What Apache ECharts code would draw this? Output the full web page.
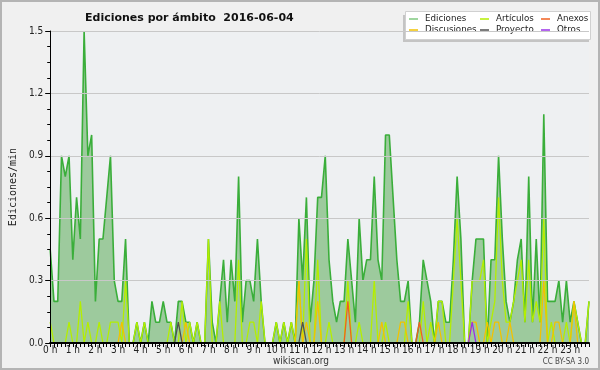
<!DOCTYPE html>
<html><head><meta charset="utf-8">
<script src="https://cdn.jsdelivr.net/npm/echarts@6/dist/echarts.min.js"></script>
<style>html,body{margin:0;padding:0;background:#f0f0f0}#c{width:600px;height:370px}</style>
</head><body><div id="c"></div>
<script>
// Tick labels (one per hour, every 6 ten-minute slots)
const hourLabels = ['0 h','1 h','2 h','3 h','4 h','5 h','6 h','7 h','8 h','9 h','10 h','11 h','12 h','13 h','14 h','15 h','16 h','17 h','18 h','19 h','20 h','21 h','22 h','23 h'];
const yTicks = [0, 0.3, 0.6, 0.9, 1.2, 1.5];

// Edits per minute, one value per 10-minute slot (144 slots)
const ediciones = [
  0.45,0.2,0.2,0.9,0.8,0.9,0.4,0.7,0.5,1.5,0.9,1.0,
  0.2,0.5,0.5,0.7,0.9,0.3,0.2,0.2,0.5,0,0,0.1,
  0,0.1,0,0.2,0.1,0.1,0.2,0.1,0.1,0,0.2,0.2,
  0.1,0.1,0,0.1,0,0,0.5,0.1,0,0.2,0.4,0.1,
  0.4,0.2,0.8,0.1,0.3,0.3,0.2,0.5,0.2,0,0,0,
  0.1,0,0.1,0,0.1,0,0.6,0.3,0.7,0.1,0.3,0.7,
  0.7,0.9,0.4,0.2,0.1,0.2,0.2,0.5,0.3,0.1,0.6,0.3,
  0.4,0.4,0.8,0.4,0.3,1.0,1.0,0.7,0.4,0.2,0.2,0.3,
  0,0,0.1,0.4,0.3,0.2,0,0.2,0.2,0.1,0.1,0.4,
  0.8,0.5,0,0,0.3,0.5,0.5,0.5,0,0.4,0.4,0.9,
  0.5,0.2,0.1,0.2,0.4,0.5,0.1,0.8,0.1,0.5,0.1,1.1,
  0.2,0.2,0.2,0.3,0.1,0.3,0.1,0.2,0.1,0,0,0.2
];
const articulos = [
  0.1,0,0,0,0,0.1,0,0,0.2,0,0.1,0,
  0,0.1,0,0,0.1,0.1,0.1,0,0.3,0,0,0.1,
  0,0.1,0,0,0,0,0,0,0.1,0,0,0.2,
  0,0.1,0,0.1,0,0,0.5,0,0,0.2,0,0,
  0,0,0.4,0,0,0.1,0.1,0,0.2,0,0,0,
  0.1,0,0.1,0,0.1,0,0.3,0,0.5,0,0,0.4,
  0,0,0.1,0,0,0,0,0.3,0,0,0.1,0,
  0,0,0.3,0,0,0.1,0,0,0,0,0,0.2,
  0,0,0,0.2,0,0.1,0,0.2,0.2,0,0,0.3,
  0.6,0.3,0,0,0.3,0.3,0.3,0.4,0,0.1,0.2,0.7,
  0.3,0.1,0.1,0.2,0.3,0.4,0.1,0.4,0.1,0.2,0.1,0.6,
  0,0.1,0,0,0,0.1,0,0.2,0.1,0,0,0.2
];
const discusiones = [
  0,0,0,0,0,0,0,0,0,0,0,0,
  0,0,0,0,0,0,0,0.1,0,0,0,0,
  0,0,0,0,0,0,0,0,0,0,0,0,
  0.1,0,0,0,0,0,0,0,0,0,0,0,
  0,0,0,0,0,0,0,0,0,0,0,0,
  0,0,0,0,0,0,0.3,0,0.1,0,0,0.2,
  0,0,0,0,0,0,0,0,0,0,0,0,
  0,0,0,0,0.1,0,0,0,0,0.1,0.1,0,
  0,0,0,0,0,0,0,0.1,0,0,0,0,
  0,0,0,0,0.1,0.1,0,0,0.1,0,0.1,0.1,
  0,0,0.1,0,0,0,0,0,0,0,0,0.3,
  0,0,0.1,0.1,0,0,0,0.2,0,0,0,0
];
const proyecto = [
  0,0,0,0,0,0,0,0,0,0,0,0,
  0,0,0,0,0,0,0,0,0,0,0,0,
  0,0,0,0,0,0,0,0,0,0,0.1,0,
  0,0,0,0,0,0,0,0,0,0,0,0,
  0,0,0,0,0,0,0,0,0,0,0,0,
  0,0,0,0,0,0,0,0.1,0,0,0,0,
  0,0,0,0,0,0,0,0,0,0,0,0,
  0,0,0,0,0,0,0,0,0,0,0,0,
  0,0,0,0,0,0,0,0,0,0,0,0,
  0,0,0,0,0,0,0,0,0,0,0,0,
  0,0,0,0,0,0,0,0,0,0,0,0,
  0,0,0,0,0,0,0,0,0,0,0,0
];
const anexos = [
  0,0,0,0,0,0,0,0,0,0,0,0,
  0,0,0,0,0,0,0,0,0,0,0,0,
  0,0,0,0,0,0,0,0,0,0,0,0,
  0,0,0,0,0,0,0,0,0,0,0,0,
  0,0,0,0,0,0,0,0,0,0,0,0,
  0,0,0,0,0,0,0,0,0,0,0,0,
  0,0,0,0,0,0,0,0.2,0,0,0,0,
  0,0,0,0,0,0,0,0,0,0,0,0,
  0,0,0.1,0,0,0,0,0,0,0,0,0,
  0,0,0,0,0,0,0,0,0,0,0,0,
  0,0,0,0,0,0,0,0,0,0,0,0,
  0,0,0,0,0,0,0,0,0,0,0,0
];
const otros = [
  0,0,0,0,0,0,0,0,0,0,0,0,
  0,0,0,0,0,0,0,0,0,0,0,0,
  0,0,0,0,0,0,0,0,0,0,0,0,
  0,0,0,0,0,0,0,0,0,0,0,0,
  0,0,0,0,0,0,0,0,0,0,0,0,
  0,0,0,0,0,0,0,0,0,0,0,0,
  0,0,0,0,0,0,0,0,0,0,0,0,
  0,0,0,0,0,0,0,0,0,0,0,0,
  0,0,0,0,0,0,0,0,0,0,0,0,
  0,0,0,0,0.1,0,0,0,0,0,0,0,
  0,0,0,0,0,0,0,0,0,0,0,0,
  0,0,0,0,0,0,0,0,0,0,0,0
];

const NARROW = "'Liberation Sans Narrow','DejaVu Sans Condensed','Liberation Sans',sans-serif";
const toXY = arr => arr.map((v, i) => [i, v]);

function lineSeries(name, data, color, width, z) {
  return {
    name, type: 'line', data: toXY(data), symbol: 'none', z,
    lineStyle: { color, width }, itemStyle: { color },
    emphasis: { disabled: true }, animation: false
  };
}

const legendText = { fontFamily: 'DejaVu Sans', fontSize: 8.7, color: '#222', lineHeight: 11, padding: [0, 0, 0, 2] };
function legendCol(names, left) {
  return { data: names, orient: 'vertical', left, top: 13.5, padding: 0, itemGap: 0,
    itemWidth: 9, itemHeight: 1.5, icon: 'rect', selectedMode: false, textStyle: legendText };
}

const chart = echarts.init(document.getElementById('c'), null, { renderer: 'canvas' });
const edSeries = lineSeries('Ediciones', ediciones, '#3aae3a', 1.6, 2);
edSeries.areaStyle = { color: '#9dca9d', opacity: 1 };
edSeries.itemStyle = { color: '#7fc97f' };

chart.setOption({
  backgroundColor: '#f0f0f0',
  animation: false,
  title: { text: 'Ediciones por ámbito  2016-06-04', left: 80, top: 8,
    textStyle: { fontFamily: 'DejaVu Sans', fontSize: 11, fontWeight: 'bold', color: '#111' } },
  legend: [
    legendCol(['Ediciones', 'Discusiones'], 409),
    legendCol(['Artículos', 'Proyecto'], 480),
    legendCol(['Anexos', 'Otros'], 541)
  ],
  grid: { left: 45, right: 11, top: 31, bottom: 27, show: true, backgroundColor: '#eef0f2', borderWidth: 0 },
  xAxis: {
    type: 'value', min: 0, max: ediciones.length - 1, interval: 6, z: 10,
    axisLine: { lineStyle: { color: '#000', width: 2 } },
    axisTick: { show: true, length: 4, lineStyle: { color: '#000' } },
    minorTick: { show: true, splitNumber: 6, length: 4, lineStyle: { color: '#000' } },
    splitLine: { show: false },
    axisLabel: { margin: 2, showMaxLabel: false, color: '#222', fontFamily: NARROW, fontSize: 10,
      formatter: v => (v % 6 === 0 ? hourLabels[v / 6] : '') }
  },
  yAxis: {
    type: 'value', min: yTicks[0], max: yTicks[yTicks.length - 1], interval: 0.3, z: 10,
    name: 'Ediciones/min', nameLocation: 'middle', nameRotate: 90, nameGap: 27,
    nameTextStyle: { fontFamily: 'DejaVu Sans Mono', fontSize: 10, color: '#222' },
    axisLine: { show: true, lineStyle: { color: '#000', width: 1 } },
    axisTick: { show: true, length: 5, lineStyle: { color: '#000' } },
    minorTick: { show: true, splitNumber: 4, length: 3, lineStyle: { color: '#000' } },
    splitLine: { show: true, lineStyle: { color: '#c8c8c8', width: 1 } },
    axisLabel: { margin: 7, color: '#222', fontFamily: NARROW, fontSize: 10,
      formatter: v => v.toFixed(1) }
  },
  series: [
    edSeries,
    lineSeries('Artículos', articulos, '#b4ee00', 1.3, 3),
    lineSeries('Discusiones', discusiones, '#f2c200', 1.3, 4),
    lineSeries('Proyecto', proyecto, '#505050', 1.3, 5),
    lineSeries('Anexos', anexos, '#f06020', 1.3, 6),
    lineSeries('Otros', otros, '#9a30e8', 1.3, 7)
  ],
  graphic: [
    { type: 'rect', z: 0, silent: true, shape: { x: 1, y: 1, width: 598, height: 368 },
      style: { fill: 'none', stroke: '#b4b4b4', lineWidth: 2 } },
    { type: 'rect', z: 0, silent: true, shape: { x: 403, y: 15, width: 186, height: 27 },
      style: { fill: '#c4c4c4' } },
    { type: 'rect', z: 0, silent: true, shape: { x: 405.5, y: 11.5, width: 185, height: 28 },
      style: { fill: '#ffffff', stroke: '#d0d0d0', lineWidth: 1 } },
    { type: 'text', z: 0, silent: true, style: { text: 'wikiscan.org', x: 301, y: 361, align: 'center',
      verticalAlign: 'middle', font: '10px ' + NARROW, fill: '#333' } },
    { type: 'text', z: 0, silent: true, style: { text: 'CC BY-SA 3.0', x: 589, y: 362, align: 'right',
      verticalAlign: 'middle', font: '8px ' + NARROW, fill: '#444' } }
  ]
});
</script>
</body></html>
